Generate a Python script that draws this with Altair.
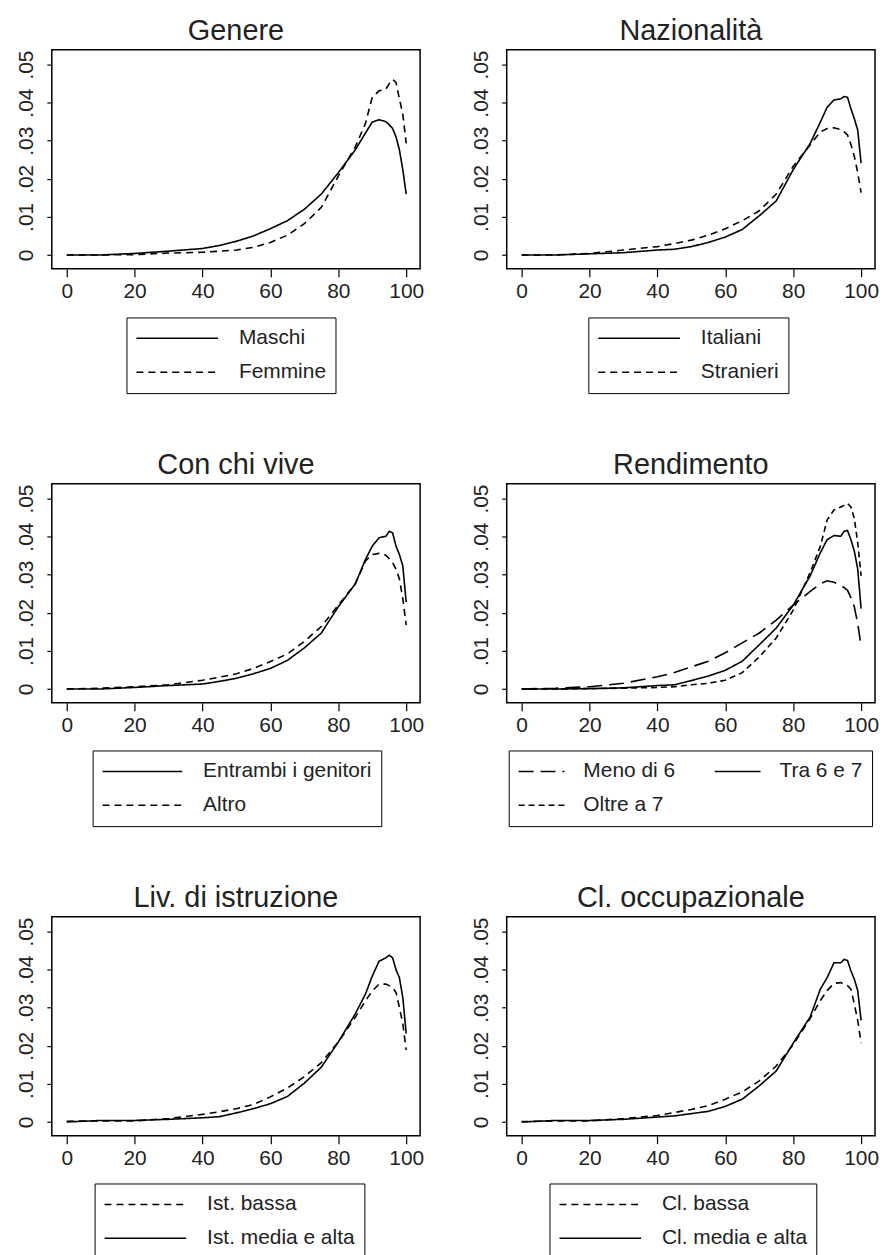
import altair as alt
import pandas as pd

# Shared evaluation points (score 0-100)
X = [0, 10, 20, 30, 40, 45, 50, 55, 60, 65, 70, 75, 80, 85, 88, 90, 92, 94, 95, 96, 97, 98, 99, 100]

# Genere
maschi = [0, 0, 0.0004, 0.0010, 0.0017, 0.0025, 0.0036, 0.0050, 0.0069, 0.0090, 0.0120, 0.0160, 0.0216, 0.0276, 0.0320, 0.0349, 0.0355, 0.0350, 0.0342, 0.0332, 0.0310, 0.0276, 0.0224, 0.0160]
femmine = [0, 0, 0.0001, 0.0005, 0.0007, 0.0010, 0.0013, 0.0020, 0.0033, 0.0052, 0.0082, 0.0125, 0.0207, 0.0284, 0.0345, 0.0414, 0.0431, 0.0435, 0.0450, 0.0461, 0.0453, 0.0410, 0.0370, 0.0293]
# Nazionalità
italiani = [0, 0, 0.0003, 0.0006, 0.0013, 0.0015, 0.0022, 0.0033, 0.0047, 0.0067, 0.0103, 0.0142, 0.0224, 0.0293, 0.0349, 0.0388, 0.0407, 0.0410, 0.0416, 0.0414, 0.0384, 0.0358, 0.0328, 0.0241]
stranieri = [0, 0, 0.0004, 0.0013, 0.0022, 0.0030, 0.0039, 0.0052, 0.0069, 0.0090, 0.0116, 0.0160, 0.0233, 0.0289, 0.0323, 0.0332, 0.0334, 0.0329, 0.0323, 0.0315, 0.0290, 0.0259, 0.0216, 0.0164]
# Con chi vive
entrambi = [0, 0, 0.0004, 0.0009, 0.0013, 0.0020, 0.0028, 0.0040, 0.0054, 0.0075, 0.0108, 0.0147, 0.0216, 0.0276, 0.0340, 0.0375, 0.0397, 0.0401, 0.0414, 0.0410, 0.0375, 0.0353, 0.0323, 0.0228]
altro = [0, 0.0002, 0.0006, 0.0011, 0.0023, 0.0031, 0.0040, 0.0054, 0.0072, 0.0092, 0.0125, 0.0164, 0.0220, 0.0276, 0.0336, 0.0353, 0.0356, 0.0351, 0.0342, 0.0332, 0.0315, 0.0289, 0.0237, 0.0168]
# Rendimento
meno6 = [0, 0.0002, 0.0006, 0.0015, 0.0032, 0.0043, 0.0058, 0.0073, 0.0095, 0.0121, 0.0147, 0.0181, 0.0220, 0.0256, 0.0276, 0.0284, 0.0280, 0.0272, 0.0266, 0.0259, 0.0240, 0.0216, 0.0172, 0.0112]
tra67 = [0, 0, 0.0001, 0.0003, 0.0009, 0.0011, 0.0022, 0.0034, 0.0049, 0.0073, 0.0116, 0.0160, 0.0220, 0.0297, 0.0358, 0.0392, 0.0403, 0.0401, 0.0414, 0.0416, 0.0392, 0.0362, 0.0315, 0.0211]
oltre7 = [0, 0, 0.0001, 0.0002, 0.0004, 0.0006, 0.0011, 0.0015, 0.0023, 0.0043, 0.0084, 0.0134, 0.0207, 0.0306, 0.0375, 0.0444, 0.0470, 0.0478, 0.0482, 0.0487, 0.0478, 0.0448, 0.0384, 0.0297]
# Liv. di istruzione
ist_bassa = [0.0002, 0.0003, 0.0003, 0.0009, 0.0020, 0.0027, 0.0035, 0.0046, 0.0066, 0.0089, 0.0119, 0.0156, 0.0210, 0.0275, 0.0318, 0.0344, 0.0362, 0.0362, 0.0358, 0.0353, 0.0340, 0.0301, 0.0258, 0.0189]
ist_media = [0, 0.0004, 0.0004, 0.0007, 0.0011, 0.0014, 0.0024, 0.0035, 0.0048, 0.0067, 0.0102, 0.0144, 0.0210, 0.0284, 0.0336, 0.0383, 0.0422, 0.0431, 0.0438, 0.0431, 0.0400, 0.0379, 0.0327, 0.0232]
# Cl. occupazionale
cl_bassa = [0.0001, 0.0003, 0.0003, 0.0009, 0.0017, 0.0025, 0.0033, 0.0043, 0.0060, 0.0079, 0.0108, 0.0147, 0.0203, 0.0272, 0.0319, 0.0345, 0.0364, 0.0366, 0.0362, 0.0358, 0.0349, 0.0310, 0.0267, 0.0207]
cl_media = [0, 0.0004, 0.0004, 0.0007, 0.0013, 0.0016, 0.0022, 0.0028, 0.0041, 0.0060, 0.0095, 0.0134, 0.0207, 0.0276, 0.0349, 0.0379, 0.0418, 0.0418, 0.0427, 0.0424, 0.0397, 0.0375, 0.0345, 0.0267]

X_TICKS = [0, 20, 40, 60, 80, 100]
Y_TICKS = [0, 0.01, 0.02, 0.03, 0.04, 0.05]

SOLID = [1, 0]
DASH = [7, 5]
LONGDASH = [15, 7]
SHORTDASH = [6, 4]

FONT = "Liberation Sans"
TXT = "#222222"


def panel(title, names, series, dashes, lx, ly, sym_len, columns=1, col_pad=10,
          label_offset=20, pad_right=""):
    rows = []
    for n, ys in zip(names, series):
        for x, y in zip(X, ys):
            rows.append({"x": x, "y": y, "s": n})
    df = pd.DataFrame(rows)
    legend = alt.Legend(
        title=None, orient="none", legendX=lx, legendY=ly,
        columns=columns, symbolType="stroke", symbolSize=sym_len ** 2,
        symbolStrokeWidth=1.5, symbolStrokeColor="black",
        labelFont=FONT, labelFontSize=21, labelColor=TXT,
        labelOffset=label_offset, strokeColor="black", padding=9,
        rowPadding=10, columnPadding=col_pad, clipHeight=24, labelLimit=400,
        labelExpr="datum.label + '" + pad_right + "'",
    )
    return alt.Chart(df).mark_line(color="black", strokeWidth=1.6).encode(
        x=alt.X("x:Q", scale=alt.Scale(domain=[-4.4, 104.1], nice=False, zero=False),
                axis=alt.Axis(values=X_TICKS, title=None, tickSize=8, labelPadding=4,
                              format="d", labelFlush=False, labelOverlap=False)),
        y=alt.Y("y:Q", scale=alt.Scale(domain=[-0.0036, 0.0539], nice=False, zero=False),
                axis=alt.Axis(values=Y_TICKS, title=None, tickSize=5, labelAngle=270,
                              labelAlign="center", labelBaseline="bottom", labelPadding=10,
                              labelOverlap=False, labelFlush=False,
                              labelExpr="datum.value == 0 ? '0' : replace(format(datum.value, '.2f'), '0.', '.')")),
        strokeDash=alt.StrokeDash("s:N", scale=alt.Scale(domain=names, range=dashes), legend=legend),
    ).properties(
        width=370, height=220,
        title=alt.TitleParams(title, fontSize=29, fontWeight="normal", font=FONT, color=TXT, offset=4),
    )


NB = "\u00a0"
p1 = panel("Genere", ["Maschi", "Femmine"], [maschi, femmine], [SOLID, DASH], 75, 269, 82, pad_right=NB * 2)
p2 = panel("Nazionalità", ["Italiani", "Stranieri"], [italiani, stranieri], [SOLID, DASH], 82, 269, 82, pad_right=NB)
p3 = panel("Con chi vive", ["Entrambi i genitori", "Altro"], [entrambi, altro], [SOLID, DASH], 41, 268, 80, pad_right=NB * 2)
# legend fills column-major: order gives row 1 = Meno di 6 | Tra 6 e 7, row 2 = Oltre a 7
p4 = panel("Rendimento", ["Meno di 6", "Oltre a 7", "Tra 6 e 7"], [meno6, oltre7, tra67],
           [LONGDASH, SHORTDASH, SOLID], 2, 268, 46, columns=2, col_pad=38, label_offset=18)
p5 = panel("Liv. di istruzione", ["Ist. bassa", "Ist. media e alta"], [ist_bassa, ist_media], [DASH, SOLID], 43, 268, 82, pad_right=NB * 3)
p6 = panel("Cl. occupazionale", ["Cl. bassa", "Cl. media e alta"], [cl_bassa, cl_media], [DASH, SOLID], 43, 268, 82, pad_right=NB * 3)


def row(a, b):
    return alt.hconcat(a, b, spacing=87, bounds="flush").resolve_scale(
        strokeDash="independent").resolve_legend(strokeDash="independent")


chart = alt.vconcat(row(p1, p2), row(p3, p4), row(p5, p6), spacing=55).resolve_scale(
    strokeDash="independent").resolve_legend(strokeDash="independent").configure_view(
    stroke="black", strokeWidth=1.5).configure_axis(
    grid=False, domain=False, tickColor="black", tickWidth=1.2, labelFont=FONT,
    labelFontSize=21, labelColor=TXT).properties(padding={"left": 7, "top": 5, "right": 0, "bottom": 0})

chart.save("out.html", embed_options={"renderer": "svg", "actions": False})
